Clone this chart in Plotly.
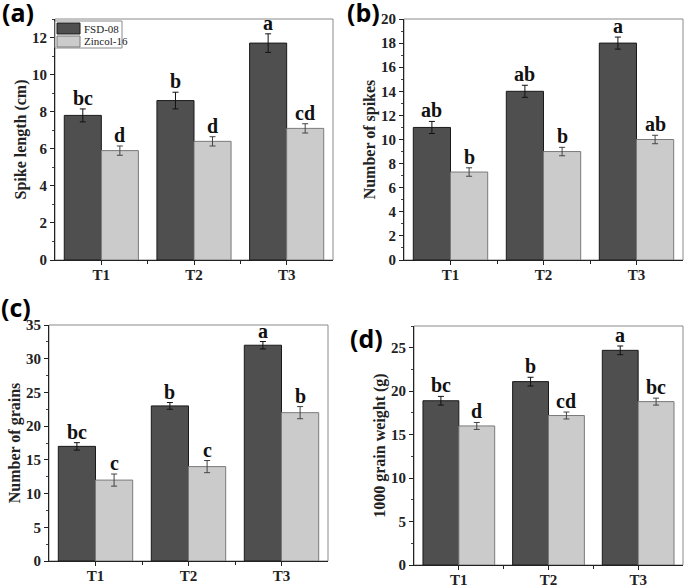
import plotly.graph_objects as go

categories = ["T1", "T2", "T3"]
series_names = ["FSD-08", "Zincol-16"]

# (a) Spike length (cm)
a_fsd = [7.8, 8.6, 11.7]
a_fsd_err = [0.35, 0.45, 0.5]
a_zin = [5.9, 6.4, 7.1]
a_zin_err = [0.25, 0.25, 0.25]
a_fsd_lbl = ["bc", "b", "a"]
a_zin_lbl = ["d", "d", "cd"]

# (b) Number of spikes
b_fsd = [11, 14, 18]
b_fsd_err = [0.5, 0.5, 0.5]
b_zin = [7.3, 9, 10]
b_zin_err = [0.35, 0.35, 0.35]
b_fsd_lbl = ["ab", "ab", "a"]
b_zin_lbl = ["b", "b", "ab"]

# (c) Number of grains
c_fsd = [17, 23, 32]
c_fsd_err = [0.55, 0.5, 0.55]
c_zin = [12, 14, 22]
c_zin_err = [0.9, 0.9, 0.9]
c_fsd_lbl = ["bc", "b", "a"]
c_zin_lbl = ["c", "c", "b"]

# (d) 1000 grain weight (g)
d_fsd = [18.9, 21.1, 24.7]
d_fsd_err = [0.5, 0.5, 0.5]
d_zin = [16.0, 17.2, 18.8]
d_zin_err = [0.4, 0.4, 0.4]
d_fsd_lbl = ["bc", "b", "a"]
d_zin_lbl = ["d", "cd", "bc"]

panels = [
    dict(tag="(a)", title="Spike length (cm)", fsd=a_fsd, fe=a_fsd_err, zin=a_zin, ze=a_zin_err,
         fl=a_fsd_lbl, zl=a_zin_lbl, yr=[0, 13], dt=2, px=(55, 333), py=(19, 260), lab=(18, 12)),
    dict(tag="(b)", title="Number of spikes", fsd=b_fsd, fe=b_fsd_err, zin=b_zin, ze=b_zin_err,
         fl=b_fsd_lbl, zl=b_zin_lbl, yr=[0, 20], dt=2, px=(404, 683), py=(19, 260), lab=(363, 12)),
    dict(tag="(c)", title="Number of grains", fsd=c_fsd, fe=c_fsd_err, zin=c_zin, ze=c_zin_err,
         fl=c_fsd_lbl, zl=c_zin_lbl, yr=[0, 35], dt=5, px=(49, 328), py=(325, 561), lab=(16, 307)),
    dict(tag="(d)", title="1000 grain weight (g)", fsd=d_fsd, fe=d_fsd_err, zin=d_zin, ze=d_zin_err,
         fl=d_fsd_lbl, zl=d_zin_lbl, yr=[0, 27.5], dt=5, px=(414, 683), py=(326, 565), lab=(366, 338)),
]

W, H = 691, 585
SERIF = "Liberation Serif"
DARK = "#4f4f4f"
LIGHT = "#cbcbcb"
xs = list(range(len(categories)))

fig = go.Figure()
layout = dict(
    width=W, height=H, margin=dict(l=0, r=0, t=0, b=0),
    paper_bgcolor="white", plot_bgcolor="white",
    barmode="group", bargap=0.2, bargroupgap=0,
    showlegend=False,
)
annotations = []
shapes = []

for i, p in enumerate(panels):
    n = "" if i == 0 else str(i + 1)
    xa, ya = "x" + n, "y" + n
    fig.add_trace(go.Bar(x=xs, y=p["fsd"], name=series_names[0], xaxis=xa, yaxis=ya,
                         offsetgroup="1",
                         marker=dict(color=DARK, line=dict(color="#1a1a1a", width=1)),
                         error_y=dict(type="data", array=p["fe"], color="#111", thickness=1, width=3)))
    fig.add_trace(go.Bar(x=xs, y=p["zin"], name=series_names[1], xaxis=xa, yaxis=ya,
                         offsetgroup="2",
                         marker=dict(color=LIGHT, line=dict(color="#7a7a7a", width=1)),
                         error_y=dict(type="data", array=p["ze"], color="#444", thickness=1, width=3)))
    dom_x = [p["px"][0] / W, p["px"][1] / W]
    dom_y = [1 - p["py"][1] / H, 1 - p["py"][0] / H]
    layout["xaxis" + n] = dict(
        domain=dom_x, anchor=ya, range=[-0.5, 2.5], tickvals=xs, ticktext=categories,
        ticks="outside", ticklen=4, tickcolor="#222", showline=True, linecolor="#222", linewidth=1,
        showgrid=False, zeroline=False, automargin=False, ticklabelstandoff=-3,
        tickfont=dict(family=SERIF, size=15, color="#222", weight="bold"),
        minor=dict(tickvals=[0.5, 1.5], ticks="outside", ticklen=3, tickcolor="#222"),
    )
    layout["yaxis" + n] = dict(
        domain=dom_y, anchor=xa, range=p["yr"], dtick=p["dt"], tick0=0,
        ticks="outside", ticklen=4, tickcolor="#222", showline=True, linecolor="#222", linewidth=1,
        showgrid=False, zeroline=False, automargin=False,
        tickfont=dict(family=SERIF, size=15, color="#222", weight="bold"),
        minor=dict(dtick=p["dt"] / 2, ticks="outside", ticklen=2, tickcolor="#444"),
        title=dict(text=p["title"], standoff=1,
                   font=dict(family=SERIF, size=16, color="#222", weight="bold")),
    )
    # frame (top/right)
    shapes.append(dict(type="rect", xref=xa + " domain", yref=ya + " domain", x0=0, x1=1, y0=0, y1=1,
                       line=dict(color="#8a8a8a", width=1), layer="below"))
    # significance letters
    for j in xs:
        annotations.append(dict(x=j - 0.2, y=p["fsd"][j] + p["fe"][j], xref=xa, yref=ya,
                                text=p["fl"][j], showarrow=False, yanchor="bottom", yshift=-2,
                                font=dict(family=SERIF, size=20, color="#111", weight="bold")))
        annotations.append(dict(x=j + 0.2, y=p["zin"][j] + p["ze"][j], xref=xa, yref=ya,
                                text=p["zl"][j], showarrow=False, yanchor="bottom", yshift=-2,
                                font=dict(family=SERIF, size=20, color="#111", weight="bold")))
    annotations.append(dict(x=p["lab"][0] / W, y=1 - p["lab"][1] / H, xref="paper", yref="paper",
                            text="<b>" + p["tag"] + "</b>", showarrow=False,
                            xanchor="center", yanchor="middle",
                            font=dict(family="Open Sans", size=25, color="#000")))

# legend box in panel (a) (pixel layout of the reference)
def px_x(v):
    return v / W

def px_y(v):
    return 1 - v / H

shapes.append(dict(type="rect", xref="paper", yref="paper", x0=px_x(55), x1=px_x(122),
                   y0=px_y(48), y1=px_y(21), fillcolor="white", line=dict(color="#8a8a8a", width=1)))
swatches = [(DARK, "#1a1a1a", 23, 34), (LIGHT, "#7a7a7a", 36, 47)]
for (fill, edge, t, b), name in zip(swatches, series_names):
    shapes.append(dict(type="rect", xref="paper", yref="paper", x0=px_x(57), x1=px_x(80),
                       y0=px_y(b), y1=px_y(t), fillcolor=fill, line=dict(color=edge, width=1)))
    annotations.append(dict(x=px_x(82), y=px_y((t + b) / 2), xref="paper", yref="paper",
                            text=name, showarrow=False, xanchor="left", yanchor="middle",
                            font=dict(family=SERIF, size=11, color="#222")))

layout["annotations"] = annotations
layout["shapes"] = shapes
fig.update_layout(**layout)
fig.write_html("out.html", config={"displayModeBar": False},
               post_script="document.body.style.margin='0';")
